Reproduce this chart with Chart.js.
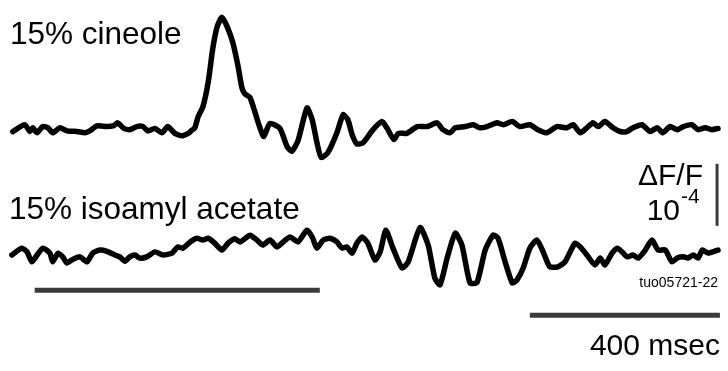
<!DOCTYPE html>
<html>
<head>
<meta charset="utf-8">
<script src="https://cdn.jsdelivr.net/npm/chart.js@4.4.1/dist/chart.umd.min.js"></script>
<style>
  html, body { margin: 0; padding: 0; background: #fff; }
  #wrap { width: 728px; height: 371px; }
</style>
</head>
<body>
<div id="wrap"><canvas id="myChart" width="728" height="371"></canvas></div>
<script>
// time in msec, signal in dF/F x 1e-4
const cineoleT = [2, 27, 38, 44, 53, 65, 76, 86, 101, 116, 137, 154, 164, 179, 200, 213, 223, 234, 248, 263, 276, 286, 301, 316, 328, 343, 358, 371, 377, 385, 392, 402, 413, 423, 432, 442, 453, 465, 476, 484, 490, 501, 512, 522, 530, 543, 564, 579, 589, 602, 621, 632, 642, 651, 665, 684, 697, 707, 716, 726, 739, 760, 779, 789, 804, 813, 831, 853, 874, 895, 907, 922, 933, 954, 971, 985, 1000, 1021, 1034, 1053, 1069, 1090, 1107, 1126, 1147, 1168, 1181, 1196, 1210, 1223, 1234, 1248, 1265, 1280, 1294, 1307, 1326, 1343, 1358, 1370, 1385, 1400, 1413, 1431, 1444, 1459, 1473, 1486];
const cineoleV = [-0.03, 0.08, -0.03, 0.03, -0.05, 0.05, 0.03, -0.05, 0.03, -0.02, -0.03, -0.05, -0.02, 0.06, 0.05, 0.06, 0.11, 0.03, 0, 0.05, 0.05, -0.02, 0.02, -0.05, 0.05, -0.06, -0.1, -0.06, -0.02, 0.03, 0.21, 0.37, 0.76, 1.32, 1.66, 1.81, 1.66, 1.4, 1.02, 0.68, 0.58, 0.52, 0.27, 0.03, -0.11, 0.1, 0.02, -0.27, -0.35, -0.18, 0.35, 0.16, -0.21, -0.45, -0.37, -0.05, 0.24, 0.16, -0.08, -0.23, -0.21, 0, 0.13, 0.03, -0.16, -0.06, -0.06, 0.05, 0.05, 0.11, 0, -0.05, 0.03, 0.05, 0.08, 0.03, 0.05, 0.11, 0.08, 0.13, 0.05, 0.08, 0, -0.05, 0.05, 0.03, 0.08, -0.05, 0.03, 0.11, 0.05, 0.13, 0.03, -0.03, -0.03, 0.03, 0.08, -0.03, 0.03, -0.05, 0.05, 0, 0.05, 0.08, 0, 0.03, 0, 0.02];

const isoamylT = [0, 21, 32, 42, 53, 65, 80, 86, 97, 107, 116, 126, 143, 158, 170, 185, 200, 217, 227, 238, 248, 259, 269, 284, 301, 318, 337, 349, 360, 375, 389, 402, 413, 427, 442, 455, 469, 480, 495, 501, 516, 528, 543, 558, 568, 585, 602, 621, 632, 642, 655, 669, 684, 695, 705, 716, 726, 737, 749, 764, 775, 787, 802, 821, 834, 859, 876, 890, 901, 916, 933, 947, 964, 979, 996, 1013, 1023, 1038, 1053, 1063, 1076, 1090, 1105, 1118, 1132, 1149, 1164, 1185, 1196, 1210, 1227, 1238, 1248, 1263, 1274, 1284, 1295, 1307, 1318, 1333, 1347, 1360, 1375, 1389, 1400, 1413, 1423, 1434, 1444, 1453, 1465, 1486];
const isoamylV = [0, 0.11, 0.05, -0.11, 0, 0.11, 0.03, -0.11, 0.03, -0.03, -0.13, -0.08, -0.03, -0.11, 0.03, 0.08, 0.06, 0, -0.03, -0.1, -0.03, 0, -0.05, -0.03, 0.05, 0, 0.03, 0.13, 0.11, 0.21, 0.27, 0.24, 0.27, 0.19, 0.08, 0.19, 0.26, 0.21, 0.29, 0.32, 0.24, 0.16, 0.24, 0.13, 0.19, 0.29, 0.21, 0.4, 0.29, 0.11, 0.24, 0.27, 0.21, 0.11, 0.13, 0.03, 0.19, 0.29, 0.19, -0.08, 0.05, 0.4, 0.11, -0.21, -0.11, 0.44, 0.16, -0.37, -0.48, -0.05, 0.35, 0.16, -0.45, -0.44, 0.08, 0.32, 0.27, -0.11, -0.45, -0.4, -0.21, 0.11, 0.24, 0.05, -0.19, -0.19, -0.11, 0.19, 0.13, 0, -0.16, -0.05, -0.16, 0.03, 0.11, 0.05, -0.03, 0, -0.05, 0.08, 0.24, 0.08, 0.08, -0.11, -0.05, -0.03, -0.05, 0, -0.05, 0.08, 0.03, 0.08];

const odorOn = [48, 648];       // msec, odor presentation
const timeBar = [1090, 1490];   // 400 msec scale bar
const dffBar = [0.47, 1.47];    // 1e-4 dF/F scale bar

const traceGap = 2.02; // vertical offset of upper trace
const dark = "#3a3a3a";

const toPts = (ts, vs, off) => ts.map((t, i) => ({ x: t, y: vs[i] + off }));

const labels = {
  id: "labels",
  afterDraw(chart) {
    const ctx = chart.ctx;
    ctx.save();
    ctx.fillStyle = "#000";
    ctx.textBaseline = "alphabetic";
    ctx.font = "31.5px 'Liberation Sans', Arial, sans-serif";
    ctx.textAlign = "left";
    ctx.fillText("15% cineole", 10, 44);
    ctx.fillText("15% isoamyl acetate", 9, 219);
    ctx.font = "30px 'Liberation Sans', Arial, sans-serif";
    ctx.textAlign = "right";
    ctx.fillText("\u0394F/F", 703, 185);
    ctx.fillText("10", 680, 220);
    ctx.fillText("400 msec", 720, 355);
    ctx.textAlign = "left";
    ctx.font = "21px 'Liberation Sans', Arial, sans-serif";
    ctx.fillText("-4", 681, 203);
    ctx.textAlign = "right";
    ctx.font = "14px 'Liberation Sans', Arial, sans-serif";
    ctx.fillText("tuo05721-22", 718, 287);
    ctx.restore();
  }
};

const lineSet = (data, width, color) => ({
  data: data,
  borderColor: color,
  borderWidth: width,
  pointRadius: 0,
  tension: 0.2,
  borderJoinStyle: "round",
  borderCapStyle: "round",
  fill: false
});

const ctx = document.getElementById("myChart").getContext("2d");
const myChart = new Chart(ctx, {
  type: "line",
  data: {
    datasets: [
      lineSet(toPts(cineoleT, cineoleV, traceGap), 5.5, "#000"),
      lineSet(toPts(isoamylT, isoamylV, 0), 5.5, "#000"),
      { ...lineSet([{ x: odorOn[0], y: -0.57 }, { x: odorOn[1], y: -0.57 }], 5, dark), borderCapStyle: "butt", tension: 0 },
      { ...lineSet([{ x: timeBar[0], y: -0.97 }, { x: timeBar[1], y: -0.97 }], 5, dark), borderCapStyle: "butt", tension: 0 },
      { ...lineSet([{ x: 1484, y: dffBar[0] }, { x: 1484, y: dffBar[1] }], 3, dark), borderCapStyle: "butt", tension: 0 }
    ]
  },
  options: {
    responsive: false,
    animation: false,
    layout: { padding: 0 },
    plugins: { legend: { display: false }, tooltip: { enabled: false } },
    scales: {
      x: { type: "linear", min: -25, max: 1507, display: false },
      y: { type: "linear", min: -1.87, max: 4.11, display: false }
    }
  },
  plugins: [labels]
});
</script>
</body>
</html>
